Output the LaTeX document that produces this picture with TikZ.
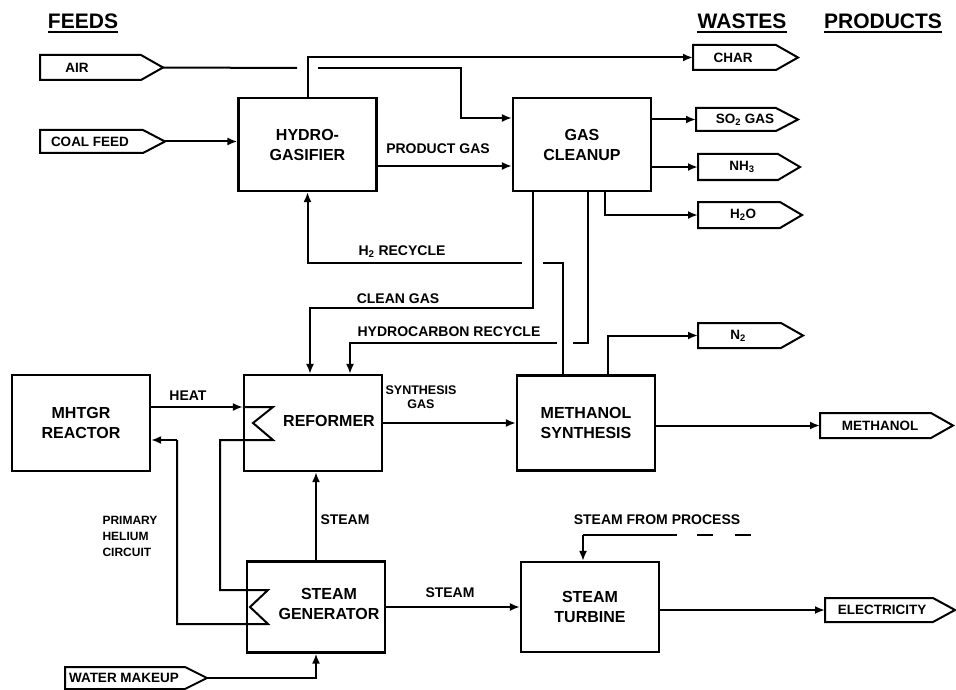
\documentclass[tikz,border=0pt]{standalone}
\usepackage{fontspec}
\setmainfont{Liberation Sans}
\usetikzlibrary{arrows.meta}
\tikzset{
  line/.style={line width=2pt, line join=miter},
  flow/.style={line, -{Latex[length=10pt,width=8pt]}},
  unit/.style={draw, line width=2.2pt, minimum width=138pt, inner sep=0pt, align=center,
    font=\bfseries\fontsize{16}{20}\selectfont},
  boxtext/.style={inner sep=0pt, align=center, font=\bfseries\fontsize{16}{20}\selectfont},
  lbl/.style={inner sep=0pt, align=center, font=\bfseries\fontsize{14}{15}\selectfont},
  head/.style={inner sep=0pt, font=\bfseries\fontsize{21}{24}\selectfont},
  termframe/.style={inner sep=0pt, outer sep=0pt},
  termline/.style={line width=2pt, line join=miter},
  termtext/.style={inner sep=0pt, font=\bfseries\fontsize{13.5}{15}\selectfont}
}
\newcommand\termnode[7]{%
  \node[termframe, minimum width={(#4-#2)*1pt}, minimum height={(#5-#3)*1pt}] (#1) at ({(#2+#4)/2},{(#3+#5)/2}) {};
  \draw[termline] (#1.north west) -- ([xshift=-22pt]#1.north east) -- (#1.east) -- ([xshift=-22pt]#1.south east) -- (#1.south west) -- cycle;
  \node[termtext] (#1-t) at (#6,{(#3+#5)/2}) {#7};
}
\begin{document}
\begin{tikzpicture}[x=1pt,y=-1pt]
\useasboundingbox (0,0) rectangle (956,690);

% headers
\node[head] (hfeeds) at (83,21.5) {FEEDS};
\node[head] (hwastes) at (742,21.5) {WASTES};
\node[head] (hprod) at (883,21.5) {PRODUCTS};
\foreach \h in {hfeeds,hwastes,hprod}
  \draw[line width=2pt] ([yshift=-2.5pt]\h.south west) -- ([yshift=-2.5pt]\h.south east);

% process units
\node[unit, minimum height=93pt] (hg) at (307.5,144.5) {HYDRO-\\GASIFIER};
\node[unit, minimum height=93pt] (gc) at (582,144.5) {GAS\\CLEANUP};
\node[unit, minimum height=96pt] (mr) at (81,423) {MHTGR\\REACTOR};
\node[unit, minimum height=96pt] (rf) at (313,423) {};
\node[boxtext] (rft) at (329,421) {REFORMER};
\node[unit, minimum height=95pt] (ms) at (586,423) {METHANOL\\SYNTHESIS};
\node[unit, minimum height=91pt] (sg) at (316,607) {};
\node[boxtext] (sgt) at (329,604) {STEAM\\GENERATOR};
\node[unit, minimum height=90pt] (st) at (590,607) {STEAM\\TURBINE};

% terminals
\termnode{air}{40}{55}{163}{80}{77}{AIR}
\termnode{coal}{40}{130}{165}{153}{90}{COAL FEED}
\termnode{char}{693}{45}{798}{70}{733}{CHAR}
\termnode{so2}{696}{108}{798}{131}{745}{SO\textsubscript{2} GAS}
\termnode{nh3}{698}{154}{800}{180}{742}{NH\textsubscript{3}}
\termnode{h2o}{698}{202}{802}{228}{743}{H\textsubscript{2}O}
\termnode{n2}{698}{323}{803}{348}{738}{N\textsubscript{2}}
\termnode{meth}{820}{413}{953}{438}{880}{METHANOL}
\termnode{elec}{825}{598}{955}{622}{882}{ELECTRICITY}
\termnode{water}{65}{667}{207}{689}{124}{WATER MAKEUP}

% labels
\node[lbl] (lpg) at (438,149) {PRODUCT GAS};
\node[lbl] (lh2) at (402,252) {H\textsubscript{2} RECYCLE};
\node[lbl] (lcg) at (398,299) {CLEAN GAS};
\node[lbl] (lhc) at (449,332) {HYDROCARBON RECYCLE};
\node[lbl] (lht) at (188,396) {HEAT};
\node[lbl, font=\bfseries\fontsize{12.5}{14}\selectfont] (lsy) at (421,397) {SYNTHESIS\\GAS};
\node[lbl] (ls1) at (345,520) {STEAM};
\node[lbl] (ls2) at (450,593) {STEAM};
\node[lbl] (lsp) at (657,520) {STEAM FROM PROCESS};
\node[lbl, align=left, font=\bfseries\fontsize{12}{16}\selectfont] (lph) at (130,536) {PRIMARY\\HELIUM\\CIRCUIT};

% coordinates for routing
\coordinate (airA) at (297,68);
\coordinate (airB) at (318,68);
\coordinate (airC) at (461,68);
\coordinate (h2a) at (522,263);
\coordinate (h2b) at (543,263);
\coordinate (cgc) at (310,308);
\coordinate (hca) at (557,343);
\coordinate (hcb) at (573,343);
\coordinate (z1) at (273,407);
\coordinate (z2) at (253,423);
\coordinate (z3) at (273,440);
\coordinate (z4) at (220,440);
\coordinate (z5) at (220,590);
\coordinate (z6) at (268,590);
\coordinate (z7) at (250,607);
\coordinate (z8) at (268,624);
\coordinate (z9) at (177,624);
\coordinate (z10) at (177,440);
\coordinate (sp) at (583,535);
\coordinate (spE) at (677,535);
\coordinate (spD) at (697,535);
\coordinate (spF) at (753,535);

% feeds
\draw[line] (air.east) -- (airA);
\draw[flow] (airB) -- (airC) |- ([yshift=26.5pt]gc.west);
\draw[flow] (hg.north) |- (char.west);
\draw[flow] (coal.east) -- (hg.west |- coal.east);
\draw[flow] ([yshift=-21.5pt]hg.east) -- ([yshift=-21.5pt]gc.west);

% gas cleanup outputs
\draw[flow] (gc.east |- so2.west) -- (so2.west);
\draw[flow] (gc.east |- nh3.west) -- (nh3.west);
\draw[flow] ([xshift=23pt]gc.south) |- (h2o.west);

% recycles
\draw[line] ([xshift=-23pt]ms.north) |- (h2b);
\draw[flow] (h2a) -| (hg.south);
\draw[flow] ([xshift=-49pt]gc.south) |- (cgc) -- (cgc |- rf.north);
\draw[line] ([xshift=6pt]gc.south) |- (hcb);
\draw[flow] (hca) -| ([xshift=37pt]rf.north);

% helium circuit
\draw[flow] ([yshift=16pt]mr.east) -- ([yshift=16pt]rf.west);
\draw[line] ([yshift=16pt]rf.west) -- (z1) -- (z2) -- (z3) -- (z4) -- (z5) -- (z6) -- (z7) -- (z8) -- (z9) -- (z10);
\draw[flow] (z10) -- (mr.east |- z10);

% reformer / methanol
\draw[flow] (rf.east) -- (ms.west);
\draw[flow] ([xshift=22pt]ms.north) |- (n2.west);
\draw[flow] (ms.east |- meth.west) -- (meth.west);

% steam
\draw[flow] (sg.north) -- (sg.north |- rf.south);
\draw[flow] (sg.east) -- (st.west);
\draw[line] (spE) -- (sp);
\draw[flow] (sp) -- (sp |- st.north);
\draw[line, dash pattern=on 16pt off 22pt] (spD) -- (spF);
\draw[flow] (st.east |- elec.west) -- (elec.west);
\draw[flow] (water.east) -| (sg.south);
\end{tikzpicture}
\end{document}
